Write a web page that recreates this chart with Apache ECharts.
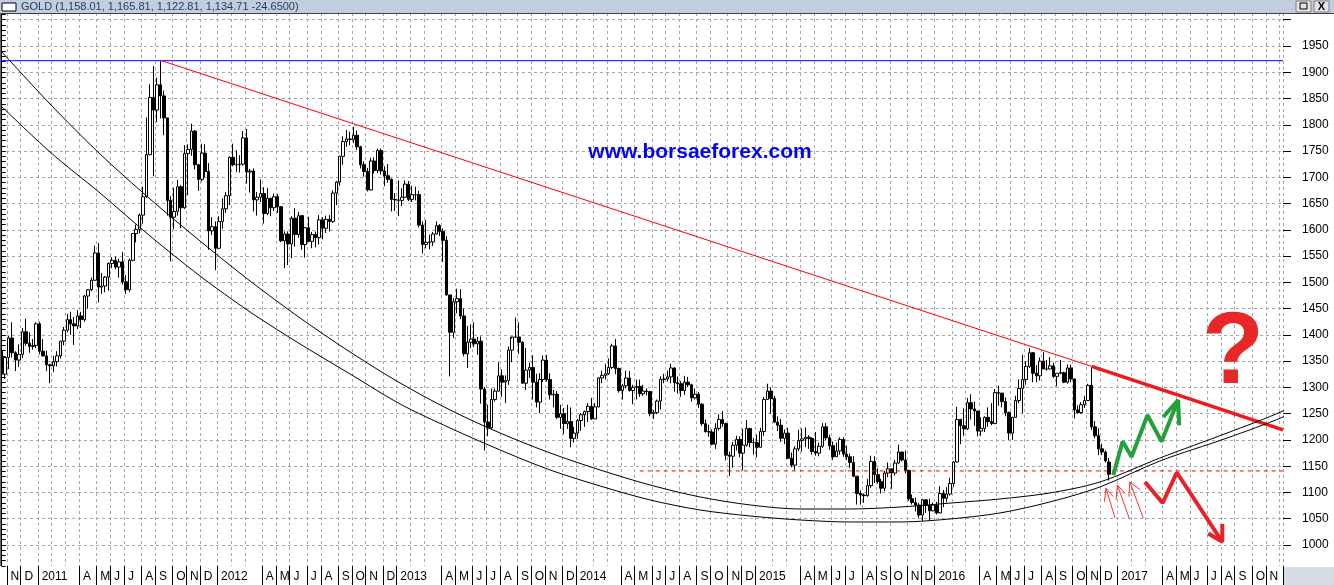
<!DOCTYPE html>
<html><head><meta charset="utf-8">
<script src="https://cdn.jsdelivr.net/npm/echarts@6/dist/echarts.min.js"></script>
<style>html,body{margin:0;padding:0;background:#fff;overflow:hidden}#c{width:1334px;height:585px}</style>
</head><body><div id="c"></div>
<script>
// ---------- category axis: weekly bars ----------
const START_WEEK = Date.UTC(2010, 9, 22);
const WEEK_COUNT = 372;
const monthInitials = ['', '', '', 'A', 'M', 'J', 'J', 'A', 'S', 'O', 'N', 'D'];
const priceLabels = [1000,1050,1100,1150,1200,1250,1300,1350,1400,1450,1500,1550,1600,1650,1700,1750,1800,1850,1900,1950];
const gridPrices = [1000,1050,1100,1150,1200,1250,1300,1350,1400,1450,1500,1550,1600,1650,1700,1750,1800,1850,1900,1950,2000];

// ---------- weekly OHLC [open, high, low, close] ----------
const w2010 = [[1369,1371,1318,1325],[1325,1359,1316,1357],[1357,1398,1335,1394],[1394,1424,1357,1366],[1366,1369,1331,1352],[1352,1382,1339,1363],[1363,1413,1356,1406],[1406,1431,1379,1384],[1384,1405,1366,1378],[1378,1392,1372,1380],[1380,1424,1375,1421]];
const w2011 = [[1421,1425,1363,1369],[1369,1392,1359,1360],[1360,1370,1331,1343],[1343,1345,1308,1341],[1341,1360,1329,1349],[1349,1369,1340,1360],[1360,1389,1355,1388],[1388,1415,1380,1409],[1409,1440,1405,1429],[1429,1444,1400,1421],[1421,1434,1381,1417],[1417,1447,1411,1436],[1436,1444,1413,1429],[1429,1476,1425,1474],[1474,1487,1450,1486],[1486,1509,1483,1504],[1504,1570,1503,1556],[1556,1575,1462,1491],[1491,1518,1478,1493],[1493,1512,1481,1510],[1510,1538,1484,1536],[1536,1548,1527,1542],[1542,1549,1525,1529],[1529,1545,1509,1539],[1539,1558,1496,1501],[1501,1514,1478,1486],[1486,1545,1482,1542],[1542,1594,1540,1593],[1593,1610,1576,1601],[1601,1631,1593,1628],[1628,1682,1612,1663],[1663,1814,1661,1743],[1743,1877,1742,1852],[1852,1912,1702,1828],[1828,1890,1805,1876],[1876,1921,1812,1855],[1855,1865,1780,1813],[1813,1813,1627,1656],[1656,1664,1540,1624],[1624,1680,1601,1635],[1635,1695,1627,1682],[1682,1685,1603,1642],[1642,1761,1640,1745],[1745,1763,1666,1753],[1753,1802,1741,1788],[1788,1790,1715,1724],[1724,1724,1674,1696],[1696,1764,1692,1746],[1746,1763,1700,1711],[1711,1727,1562,1598],[1598,1624,1590,1606],[1606,1616,1523,1565]];
const w2012 = [[1565,1626,1564,1616],[1616,1660,1602,1640],[1640,1672,1632,1665],[1665,1740,1647,1738],[1738,1764,1721,1724],[1724,1752,1710,1724],[1724,1742,1709,1725],[1725,1788,1722,1775],[1775,1792,1688,1710],[1710,1716,1671,1712],[1712,1717,1635,1657],[1657,1672,1627,1662],[1662,1696,1653,1669],[1669,1681,1612,1631],[1631,1680,1628,1660],[1660,1661,1626,1642],[1642,1669,1636,1663],[1663,1668,1632,1644],[1644,1645,1577,1579],[1579,1597,1527,1592],[1592,1597,1533,1573],[1573,1626,1546,1622],[1622,1641,1568,1591],[1591,1634,1585,1627],[1627,1627,1562,1572],[1572,1605,1547,1604],[1604,1625,1576,1578],[1578,1596,1565,1591],[1591,1597,1567,1585],[1585,1628,1572,1619],[1619,1624,1582,1603],[1603,1627,1594,1620],[1620,1628,1597,1616],[1616,1675,1613,1670],[1670,1693,1647,1691],[1691,1741,1684,1740],[1740,1778,1724,1768],[1768,1790,1758,1773],[1773,1787,1761,1772],[1772,1796,1765,1780],[1780,1789,1752,1758],[1758,1760,1717,1724],[1724,1730,1701,1711],[1711,1718,1673,1676],[1676,1737,1675,1731],[1731,1738,1707,1713],[1713,1755,1708,1751],[1751,1755,1705,1712],[1712,1721,1683,1703],[1703,1725,1690,1696],[1696,1698,1635,1658],[1658,1670,1636,1657]];
const w2013 = [[1657,1694,1626,1656],[1656,1679,1645,1662],[1662,1694,1661,1687],[1687,1693,1655,1658],[1658,1684,1653,1667],[1667,1682,1656,1667],[1667,1674,1605,1609],[1609,1616,1555,1572],[1572,1619,1565,1576],[1576,1591,1563,1577],[1577,1596,1569,1592],[1592,1616,1591,1608],[1608,1611,1588,1597],[1597,1603,1539,1580],[1580,1588,1475,1476],[1476,1476,1321,1405],[1405,1470,1394,1463],[1463,1488,1441,1469],[1469,1487,1430,1436],[1436,1450,1359,1364],[1364,1417,1337,1386],[1386,1420,1375,1392],[1392,1424,1377,1383],[1383,1396,1362,1388],[1388,1397,1269,1297],[1297,1301,1180,1234],[1234,1267,1207,1223],[1223,1298,1221,1277],[1277,1298,1273,1293],[1293,1348,1292,1322],[1322,1334,1282,1310],[1310,1323,1270,1313],[1313,1378,1305,1371],[1371,1393,1348,1396],[1396,1433,1394,1396],[1396,1424,1364,1386],[1386,1388,1307,1308],[1308,1375,1295,1333],[1333,1347,1318,1338],[1338,1361,1277,1310],[1310,1326,1262,1272],[1272,1327,1251,1315],[1315,1361,1310,1352],[1352,1362,1311,1315],[1315,1327,1277,1286],[1286,1295,1262,1287],[1287,1293,1240,1243],[1243,1267,1221,1250],[1250,1261,1211,1231],[1231,1267,1221,1235],[1235,1262,1186,1203],[1203,1225,1195,1213]];
const w2014 = [[1213,1240,1202,1237],[1237,1251,1217,1248],[1248,1256,1225,1254],[1254,1270,1234,1264],[1264,1280,1238,1240],[1240,1270,1240,1263],[1263,1319,1262,1318],[1318,1332,1308,1323],[1323,1345,1315,1326],[1326,1355,1324,1338],[1338,1383,1335,1379],[1379,1392,1325,1336],[1336,1338,1290,1294],[1294,1307,1277,1303],[1303,1332,1298,1318],[1318,1331,1292,1294],[1294,1305,1268,1300],[1300,1315,1277,1302],[1302,1315,1282,1288],[1288,1305,1284,1293],[1293,1298,1285,1292],[1292,1293,1245,1250],[1250,1257,1240,1252],[1252,1277,1249,1274],[1274,1321,1258,1315],[1315,1326,1308,1316],[1316,1332,1311,1320],[1320,1345,1308,1337],[1337,1338,1292,1309],[1309,1321,1288,1307],[1307,1312,1282,1294],[1294,1322,1286,1310],[1310,1320,1301,1305],[1305,1307,1273,1280],[1280,1298,1277,1287],[1287,1291,1261,1268],[1268,1270,1227,1231],[1231,1239,1214,1216],[1216,1229,1206,1215],[1215,1220,1190,1192],[1192,1232,1183,1222],[1222,1249,1218,1239],[1239,1255,1225,1231],[1231,1233,1161,1171],[1171,1178,1131,1169],[1169,1196,1147,1190],[1190,1208,1180,1201],[1201,1207,1167,1175],[1175,1221,1142,1190],[1190,1238,1187,1222],[1222,1223,1186,1195],[1195,1204,1172,1195]];
const w2015 = [[1195,1210,1167,1186],[1186,1223,1186,1216],[1216,1282,1208,1277],[1277,1307,1276,1293],[1293,1300,1250,1279],[1279,1284,1232,1234],[1234,1245,1217,1228],[1228,1240,1196,1203],[1203,1220,1192,1213],[1213,1223,1164,1165],[1165,1176,1148,1152],[1152,1188,1142,1183],[1183,1219,1179,1199],[1199,1222,1178,1202],[1202,1224,1186,1205],[1205,1209,1183,1203],[1203,1205,1172,1178],[1178,1215,1170,1175],[1175,1195,1169,1188],[1188,1232,1185,1225],[1225,1232,1199,1204],[1204,1210,1181,1189],[1189,1197,1162,1168],[1168,1195,1168,1179],[1179,1205,1172,1201],[1201,1205,1168,1173],[1173,1189,1162,1168],[1168,1174,1147,1157],[1157,1169,1130,1131],[1131,1131,1077,1098],[1098,1104,1077,1095],[1095,1098,1080,1094],[1094,1126,1092,1113],[1113,1170,1109,1159],[1159,1169,1118,1134],[1134,1146,1117,1121],[1121,1126,1098,1108],[1108,1141,1102,1137],[1137,1157,1129,1145],[1145,1145,1107,1137],[1137,1162,1132,1156],[1156,1191,1155,1177],[1177,1178,1159,1162],[1162,1180,1136,1142],[1142,1143,1084,1088],[1088,1096,1077,1081],[1081,1090,1064,1076],[1076,1080,1052,1057],[1057,1088,1046,1086],[1086,1087,1061,1075],[1075,1088,1047,1065],[1065,1081,1064,1076]];
const w2016 = [[1076,1082,1058,1061],[1061,1112,1062,1098],[1098,1105,1072,1089],[1089,1110,1081,1097],[1097,1128,1094,1117],[1117,1160,1110,1158],[1158,1263,1157,1239],[1239,1240,1192,1227],[1227,1260,1208,1221],[1221,1280,1219,1271],[1271,1287,1239,1259],[1259,1273,1227,1255],[1255,1255,1207,1217],[1217,1243,1208,1222],[1222,1245,1215,1243],[1243,1262,1225,1235],[1235,1270,1228,1231],[1231,1297,1232,1290],[1290,1303,1265,1289],[1289,1290,1262,1273],[1273,1281,1245,1252],[1252,1254,1200,1213],[1213,1244,1200,1243],[1243,1284,1243,1275],[1275,1315,1270,1298],[1298,1362,1251,1315],[1315,1350,1305,1340],[1340,1375,1337,1366],[1366,1367,1310,1327],[1327,1342,1310,1322],[1322,1357,1313,1350],[1350,1367,1335,1335],[1335,1352,1332,1335],[1335,1358,1334,1341],[1341,1347,1318,1321],[1321,1327,1302,1327],[1327,1352,1325,1328],[1328,1330,1308,1310],[1310,1344,1307,1337],[1337,1343,1310,1316],[1316,1317,1241,1257],[1257,1266,1250,1252],[1252,1272,1250,1267],[1267,1284,1261,1275],[1275,1307,1274,1304],[1304,1338,1219,1225],[1225,1236,1203,1208],[1208,1222,1171,1183],[1183,1193,1171,1177],[1177,1180,1157,1160],[1158.01,1165.81,1122.81,1134.71]];

// ---------- drawn studies, in (bar index, price) ----------
const athLevel = [[-0.5, 1922], [371.5, 1922]];
const resistThin = [[45.9, 1923], [316, 1340]];
const resistThick = [[316, 1340], [371.5, 1219]];
const supportDashed = [[185, 1141], [371.5, 1141]];
const arcUpper = [[-0.49,1942.4],[14.0,1839.6],[28.5,1744.4],[43.0,1658.7],[57.5,1578.8],[72.0,1502.6],[86.5,1432.2],[101.0,1367.4],[115.5,1308.4],[130.0,1257.0],[144.5,1213.2],[159.0,1175.2],[173.5,1142.8],[188.0,1114.2],[202.5,1091.4],[217.0,1076.2],[231.5,1068.5],[246.0,1068.5],[260.5,1072.3],[274.9,1079.7],[289.4,1087.6],[303.9,1099.0],[318.4,1119.9],[335.8,1165.6],[355.3,1213.2],[371.5,1255.1],[386.3,1304.6]];
const arcLower = [[-0.49,1837.7],[14.0,1748.2],[28.5,1670.1],[43.0,1588.3],[57.5,1512.1],[72.0,1443.6],[86.5,1382.7],[101.0,1325.6],[115.5,1268.4],[130.0,1222.7],[144.5,1180.9],[159.0,1142.8],[173.5,1112.3],[188.0,1085.7],[202.5,1066.6],[217.0,1055.2],[231.5,1047.6],[246.0,1043.8],[260.5,1043.8],[274.9,1049.5],[289.4,1060.9],[303.9,1081.9],[318.4,1110.4],[335.8,1159.9],[355.3,1203.7],[371.5,1243.7],[386.3,1291.3]];
const greenPath = [[322.3,1133],[325.0,1197],[327.6,1168],[332.2,1247],[336.3,1197],[341.1,1276]];
const greenHead = [[336.8,1244],[341.1,1276],[341.4,1228]];
const redPath = [[331.5,1120],[336.6,1080],[340.7,1138],[353.9,1006]];
const redHead = [[349.8,1022],[353.9,1006],[353.9,1040]];
const smallArrows = [
  {tail:[322.8,1051], tip:[320.2,1108], armA:[319.7,1082], armB:[322.3,1092]},
  {tail:[327.0,1049], tip:[323.5,1114], armA:[323.1,1086], armB:[325.7,1098]},
  {tail:[331.0,1051], tip:[327.1,1120], armA:[326.8,1092], armB:[330.1,1105]}
];

// ---------- build ----------
const ohlc = [].concat(w2010, w2011, w2012, w2013, w2014, w2015, w2016);
const weeks = [], monthStart = [], labelText = [];
let prevMonth = -1;
for (let i = 0; i < WEEK_COUNT; i++) {
  const d = new Date(START_WEEK + i * 7 * 86400000);
  weeks.push(d.toISOString().slice(0, 10));
  const m = d.getUTCMonth();
  const isStart = i > 0 && m !== prevMonth;
  monthStart.push(isStart);
  let t = '';
  if (isStart && i < WEEK_COUNT - 2) t = m === 0 ? String(d.getUTCFullYear()) : monthInitials[m];
  labelText.push(t);
  prevMonth = m;
}
const candleData = ohlc.map(r => [r[0], r[3], r[2], r[1]]);

const FONT = 'Arial, "Liberation Sans", sans-serif';
function lineSeries(data, color, width, extra) {
  return Object.assign({
    type: 'line', xAxisIndex: 1, yAxisIndex: 0, data: data, symbol: 'none',
    lineStyle: { color: color, width: width }, silent: true, animation: false, z: 5
  }, extra || {});
}
const series = [
  { type: 'candlestick', xAxisIndex: 0, yAxisIndex: 0, data: candleData, barWidth: 3,
    itemStyle: { color: '#ffffff', color0: '#000000', borderColor: '#000000', borderColor0: '#000000', borderWidth: 1 }, z: 3 },
  lineSeries(athLevel, '#0000ff', 1),
  lineSeries(resistThin, '#ff0000', 1),
  lineSeries(resistThick, '#f01818', 3.5),
  lineSeries(supportDashed, '#ff0000', 1, { lineStyle: { color: '#ff0000', width: 1, type: [4, 4] } }),
  lineSeries(arcUpper, '#000000', 1, { smooth: 0.3, clip: false }),
  lineSeries(arcLower, '#000000', 1, { smooth: 0.3, clip: false }),
  lineSeries(greenPath, '#22a03a', 4, { clip: false }),
  lineSeries(greenHead, '#22a03a', 4, { clip: false }),
  lineSeries(redPath, '#e82028', 4, { clip: false }),
  lineSeries(redHead, '#e82028', 4, { clip: false })
];
smallArrows.forEach(a => {
  series.push(lineSeries([a.tail, a.tip, a.armA], '#ff3030', 1, { clip: false }));
  series.push(lineSeries([a.tip, a.armB], '#ff3030', 1, { clip: false }));
});

const chart = echarts.init(document.getElementById('c'), null, { renderer: 'canvas' });
chart.setOption({
  animation: false,
  backgroundColor: '#ffffff',
  grid: { left: 0, right: 51, top: 13, bottom: 19, containLabel: false },
  xAxis: [
    { type: 'category', data: weeks, boundaryGap: true,
      axisLine: { show: false },
      axisTick: { show: true, length: 19, interval: (i) => labelText[i] !== '', lineStyle: { color: '#000', width: 1 } },
      axisLabel: { show: true, interval: (i) => labelText[i] !== '', formatter: (v, i) => labelText[i],
        align: 'left', margin: 5, padding: [0, 0, 0, 2], color: '#000', fontSize: 12, fontFamily: FONT },
      splitLine: { show: true, interval: (i) => monthStart[i], lineStyle: { color: '#a6a6a6', width: 1, type: [3, 3] } } },
    { type: 'value', min: -0.5, max: 371.5, show: false }
  ],
  yAxis: [
    { type: 'value', position: 'right', min: 960, max: 2012.8, interval: 10, scale: true,
      axisLine: { show: true, lineStyle: { color: '#000', width: 1 } },
      axisTick: { show: true, length: 4, lineStyle: { color: '#000' } },
      axisLabel: { show: false }, splitLine: { show: false } },
    { type: 'value', position: 'right', min: 960, max: 2012.8, scale: true,
      axisLine: { show: false },
      axisTick: { show: true, length: 8, customValues: gridPrices, lineStyle: { color: '#000' } },
      axisLabel: { show: true, customValues: priceLabels, formatter: (v) => String(v), margin: 19, color: '#000', fontSize: 12, fontFamily: FONT },
      splitLine: { show: true, lineStyle: { color: '#a6a6a6', width: 1, type: [3, 3] } } }
  ],
  graphic: [
    { type: 'rect', shape: { x: 0, y: 0, width: 1334, height: 13 }, style: { fill: '#c3cde0' }, z: 10 },
    { type: 'line', shape: { x1: 0, y1: 13.5, x2: 1334, y2: 13.5 }, style: { stroke: '#404040', lineWidth: 1 }, z: 10 },
    { type: 'rect', shape: { x: 2, y: 3, width: 14, height: 8 }, style: { fill: '#ffffff', stroke: '#000', lineWidth: 1 }, z: 11 },
    { type: 'text', x: 21, y: 7, style: { text: 'GOLD (1,158.01, 1,165.81, 1,122.81, 1,134.71 -24.6500)', fill: '#2c3a5c', font: '11px ' + FONT, verticalAlign: 'middle' }, z: 11 },
    { type: 'rect', shape: { x: 1296, y: 1, width: 15, height: 11 }, style: { fill: '#e4e4e4', stroke: '#808080', lineWidth: 1 }, z: 11 },
    { type: 'rect', shape: { x: 1300, y: 3, width: 7, height: 6 }, style: { fill: 'none', stroke: '#000', lineWidth: 1 }, z: 12 },
    { type: 'rect', shape: { x: 1314, y: 1, width: 15, height: 11 }, style: { fill: '#e4e4e4', stroke: '#808080', lineWidth: 1 }, z: 11 },
    { type: 'text', x: 1321.5, y: 7, style: { text: 'X', fill: '#000', font: 'bold 11px ' + FONT, align: 'center', verticalAlign: 'middle' }, z: 12 },
    { type: 'line', shape: { x1: 0.5, y1: 13, x2: 0.5, y2: 566 }, style: { stroke: '#6c6478', lineWidth: 1 }, z: 10 },
    { type: 'rect', shape: { x: 1284, y: 567, width: 50, height: 18 }, style: { fill: '#d8dce4' }, z: 10 },
    { type: 'text', x: 700, y: 152, style: { text: 'www.borsaeforex.com', fill: '#0000ff', font: 'bold 21px ' + FONT, align: 'center', verticalAlign: 'middle' }, z: 10 },
    { type: 'text', x: 1233, y: 355, style: { text: '?', fill: '#e82828', font: 'bold 102px ' + FONT, align: 'center', verticalAlign: 'middle' }, z: 10 }
  ],
  series: series
});
</script></body></html>
